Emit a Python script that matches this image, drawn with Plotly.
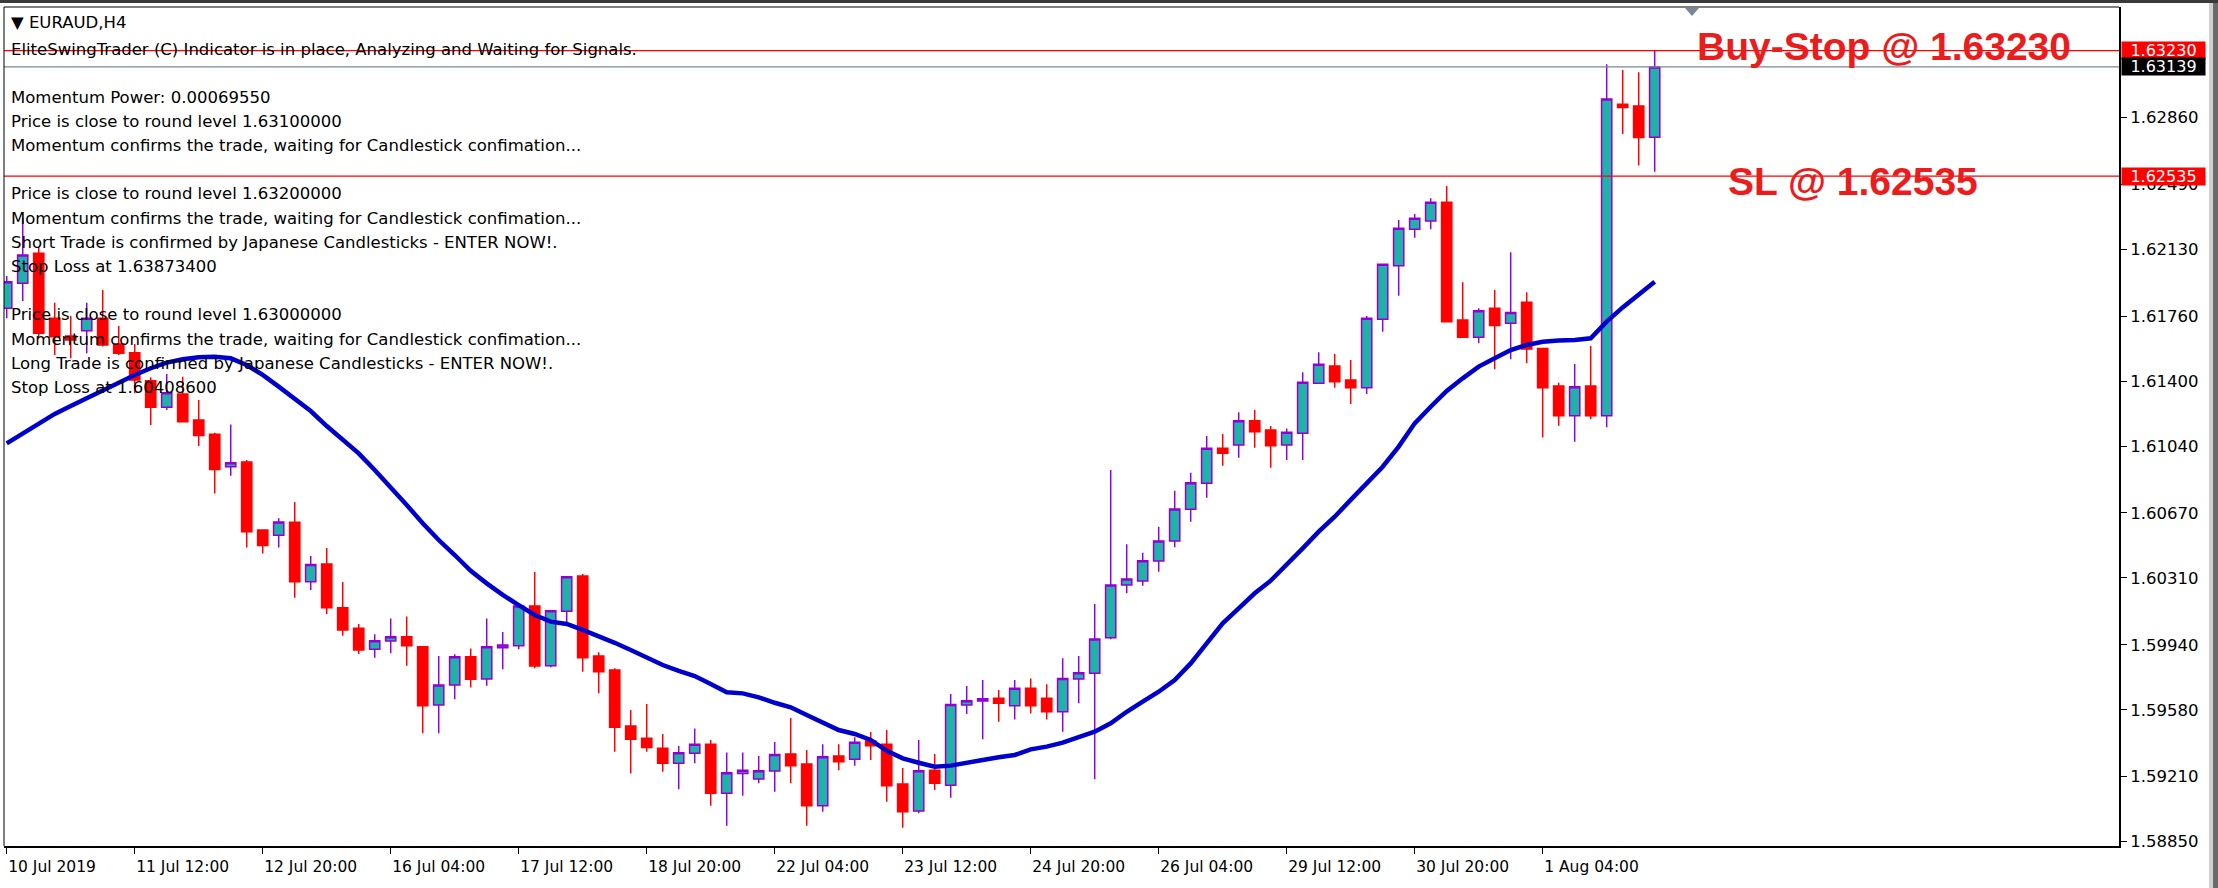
import plotly.graph_objects as go

# ---------------- data ----------------
bar_index = list(range(104))

open_ = [1.61803, 1.61941, 1.62108, 1.61748, 1.61650, 1.61679, 1.61748, 1.61605, 1.61557, 1.61402,
         1.61255, 1.61328, 1.61184, 1.61105, 1.60926, 1.60952, 1.60575, 1.60546, 1.60618, 1.60289,
         1.60387, 1.60145, 1.60031, 1.59915, 1.59961, 1.59985, 1.59929, 1.59606, 1.59717, 1.59874,
         1.59750, 1.59924, 1.59935, 1.60155, 1.59824, 1.60125, 1.60321, 1.59878, 1.59800, 1.59490,
         1.59422, 1.59367, 1.59284, 1.59339, 1.59390, 1.59118, 1.59228, 1.59197, 1.59241, 1.59335,
         1.59280, 1.59049, 1.59324, 1.59306, 1.59407, 1.59390, 1.59169, 1.59020, 1.59246, 1.59163,
         1.59606, 1.59629, 1.59644, 1.59603, 1.59699, 1.59644, 1.59569, 1.59750, 1.59782, 1.59979,
         1.60271, 1.60293, 1.60404, 1.60514, 1.60690, 1.60834, 1.61028, 1.61046, 1.61181, 1.61129,
         1.61046, 1.61111, 1.61388, 1.61484, 1.61406, 1.61363, 1.61742, 1.62039, 1.62240, 1.62286,
         1.62390, 1.61738, 1.61642, 1.61803, 1.61720, 1.61836, 1.61581, 1.61373, 1.61208, 1.61373,
         1.61208, 1.62932, 1.62923, 1.62750]

high_ = [1.61982, 1.62301, 1.62141, 1.61834, 1.61760, 1.61834, 1.61904, 1.61705, 1.61605, 1.61421,
         1.61439, 1.61424, 1.61295, 1.61114, 1.61160, 1.60963, 1.60575, 1.60640, 1.60730, 1.60431,
         1.60476, 1.60288, 1.60055, 1.59998, 1.60086, 1.60096, 1.59929, 1.59878, 1.59887, 1.59920,
         1.60086, 1.60011, 1.60160, 1.60343, 1.60129, 1.60317, 1.60332, 1.59898, 1.59810, 1.59579,
         1.59612, 1.59446, 1.59379, 1.59477, 1.59413, 1.59344, 1.59344, 1.59324, 1.59402, 1.59534,
         1.59357, 1.59390, 1.59390, 1.59428, 1.59457, 1.59468, 1.59258, 1.59413, 1.59335, 1.59667,
         1.59712, 1.59745, 1.59690, 1.59745, 1.59754, 1.59721, 1.59865, 1.59878, 1.60166, 1.60908,
         1.60496, 1.60450, 1.60594, 1.60793, 1.60893, 1.61096, 1.61107, 1.61227, 1.61240, 1.61151,
         1.61138, 1.61449, 1.61559, 1.61550, 1.61517, 1.61760, 1.62047, 1.62292, 1.62325, 1.62412,
         1.62480, 1.61947, 1.61803, 1.61904, 1.62113, 1.61892, 1.61581, 1.61391, 1.61495, 1.61594,
         1.63154, 1.63122, 1.63110, 1.63233]

low_ = [1.61748, 1.61843, 1.61637, 1.61544, 1.61526, 1.61554, 1.61591, 1.61544, 1.61332, 1.61157,
        1.61240, 1.61175, 1.61040, 1.60778, 1.60876, 1.60479, 1.60446, 1.60479, 1.60200, 1.60243,
        1.60110, 1.59990, 1.59889, 1.59868, 1.59893, 1.59824, 1.59450, 1.59450, 1.59638, 1.59704,
        1.59713, 1.59804, 1.59915, 1.59810, 1.59815, 1.60064, 1.59791, 1.59671, 1.59348, 1.59228,
        1.59348, 1.59237, 1.59140, 1.59284, 1.59049, 1.58938, 1.59104, 1.59173, 1.59126, 1.59173,
        1.58938, 1.59016, 1.59246, 1.59270, 1.59302, 1.59071, 1.58927, 1.59007, 1.59136, 1.59093,
        1.59557, 1.59417, 1.59514, 1.59527, 1.59560, 1.59527, 1.59459, 1.59616, 1.59195, 1.59970,
        1.60225, 1.60267, 1.60345, 1.60480, 1.60621, 1.60754, 1.60931, 1.60976, 1.61031, 1.60920,
        1.60963, 1.60963, 1.61388, 1.61363, 1.61273, 1.61328, 1.61673, 1.61873, 1.62194, 1.62240,
        1.61729, 1.61642, 1.61609, 1.61465, 1.61521, 1.61498, 1.61087, 1.61153, 1.61064, 1.61188,
        1.61144, 1.62768, 1.62593, 1.62559]

close_ = [1.61950, 1.62098, 1.61665, 1.61646, 1.61627, 1.61748, 1.61600, 1.61554, 1.61406, 1.61255,
          1.61336, 1.61175, 1.61098, 1.60911, 1.60948, 1.60566, 1.60490, 1.60620, 1.60289, 1.60385,
          1.60145, 1.60022, 1.59911, 1.59962, 1.59985, 1.59935, 1.59603, 1.59717, 1.59874, 1.59749,
          1.59929, 1.59939, 1.60155, 1.59822, 1.60129, 1.60317, 1.59868, 1.59791, 1.59483, 1.59417,
          1.59372, 1.59284, 1.59342, 1.59389, 1.59118, 1.59232, 1.59246, 1.59243, 1.59333, 1.59270,
          1.59049, 1.59320, 1.59292, 1.59400, 1.59381, 1.59160, 1.59016, 1.59243, 1.59173, 1.59610,
          1.59630, 1.59641, 1.59616, 1.59699, 1.59603, 1.59569, 1.59754, 1.59785, 1.59972, 1.60271,
          1.60304, 1.60405, 1.60514, 1.60692, 1.60837, 1.61028, 1.61000, 1.61181, 1.61120, 1.61042,
          1.61116, 1.61393, 1.61493, 1.61396, 1.61363, 1.61748, 1.62047, 1.62246, 1.62301, 1.62390,
          1.61729, 1.61642, 1.61790, 1.61707, 1.61779, 1.61578, 1.61363, 1.61208, 1.61369, 1.61208,
          1.62962, 1.62914, 1.62748, 1.63139]

moving_average = [1.61055, 1.61111, 1.61166, 1.61218, 1.61262, 1.61305, 1.61351, 1.61391, 1.61434, 1.61471,
                  1.61502, 1.61521, 1.61532, 1.61535, 1.61526, 1.61489, 1.61434, 1.61369, 1.61305, 1.61234,
                  1.61151, 1.61074, 1.61000, 1.60908, 1.60815, 1.60714, 1.60613, 1.60520, 1.60437, 1.60350,
                  1.60280, 1.60216, 1.60160, 1.60105, 1.60068, 1.60055, 1.60022, 1.59988, 1.59951, 1.59911,
                  1.59870, 1.59828, 1.59795, 1.59767, 1.59723, 1.59677, 1.59671, 1.59649, 1.59619, 1.59594,
                  1.59551, 1.59508, 1.59468, 1.59446, 1.59413, 1.59353, 1.59311, 1.59287, 1.59265, 1.59271,
                  1.59284, 1.59302, 1.59317, 1.59330, 1.59361, 1.59376, 1.59398, 1.59428, 1.59459, 1.59505,
                  1.59569, 1.59625, 1.59680, 1.59745, 1.59837, 1.59948, 1.60059, 1.60142, 1.60225, 1.60295,
                  1.60382, 1.60474, 1.60566, 1.60649, 1.60742, 1.60834, 1.60926, 1.61037, 1.61166, 1.61258,
                  1.61345, 1.61415, 1.61480, 1.61526, 1.61572, 1.61600, 1.61618, 1.61624, 1.61627, 1.61637,
                  1.61729, 1.61808, 1.61877, 1.61950]

xtick_bars = [0, 8, 16, 24, 32, 40, 48, 56, 64, 72, 80, 88, 96]
xtick_labels = ["10 Jul 2019", "11 Jul 12:00", "12 Jul 20:00", "16 Jul 04:00", "17 Jul 12:00",
                "18 Jul 20:00", "22 Jul 04:00", "23 Jul 12:00", "24 Jul 20:00", "26 Jul 04:00",
                "29 Jul 12:00", "30 Jul 20:00", "1 Aug 04:00"]

ytick_values = [1.58850, 1.59210, 1.59580, 1.59940, 1.60310, 1.60670,
                1.61040, 1.61400, 1.61760, 1.62130, 1.62490, 1.62860]

buy_stop = 1.63230
stop_loss = 1.62535
bid_price = 1.63139

chart_title = "\u25bc EURAUD,H4"
status_line = "EliteSwingTrader (C) Indicator is in place, Analyzing and Waiting for Signals."
info_lines = [
    "Momentum Power: 0.00069550",
    "Price is close to round level 1.63100000",
    "Momentum confirms the trade, waiting for Candlestick confimation...",
    "",
    "Price is close to round level 1.63200000",
    "Momentum confirms the trade, waiting for Candlestick confimation...",
    "Short Trade is confirmed by Japanese Candlesticks - ENTER NOW!.",
    "Stop Loss at 1.63873400",
    "",
    "Price is close to round level 1.63000000",
    "Momentum confirms the trade, waiting for Candlestick confimation...",
    "Long Trade is confirmed by Japanese Candlesticks - ENTER NOW!.",
    "Stop Loss at 1.60408600",
]

# ---------------- layout geometry ----------------
W, H = 2218, 888
ML, MR, MT, MB = 4, 99, 7, 42
PW, PH = W - ML - MR, H - MT - MB


def px(x):
    return (x - ML) / PW


def py(y):
    return 1 - (y - MT) / PH


TXT_FONT = "DejaVu Sans"
TXT_SIZE = 16.5
RED = "#FF0000"
LABEL_RED = "#EC1C1C"

fig = go.Figure()

fig.add_trace(go.Candlestick(
    x=bar_index, open=open_, high=high_, low=low_, close=close_,
    increasing=dict(line=dict(color="#9400D3", width=1.5), fillcolor="#20B2AA"),
    decreasing=dict(line=dict(color="#FF0000", width=1.5), fillcolor="#FF0000"),
    whiskerwidth=0, showlegend=False, hoverinfo="skip",
))

fig.add_trace(go.Scatter(
    x=bar_index, y=moving_average, mode="lines",
    line=dict(color="#0000CD", width=4.5), showlegend=False, hoverinfo="skip",
))

shapes = []
for lvl, col in [(buy_stop, RED), (stop_loss, RED), (bid_price, "#778899")]:
    shapes.append(dict(type="line", xref="paper", yref="y", x0=0, x1=1, y0=lvl, y1=lvl,
                       line=dict(color=col, width=1.2), layer="above"))
shapes.append(dict(type="line", xref="paper", yref="paper", x0=0, x1=1, y0=1, y1=1,
                   line=dict(color="black", width=1)))
shapes.append(dict(type="line", xref="paper", yref="paper", x0=0, x1=0, y0=0, y1=1,
                   line=dict(color="black", width=1)))
shapes.append(dict(type="rect", xref="paper", yref="paper", x0=px(0), x1=px(W), y0=py(0), y1=py(3),
                   fillcolor="#3A3A3A", line=dict(width=0)))
shapes.append(dict(type="rect", xref="paper", yref="paper", x0=px(2209), x1=px(2213), y0=py(H), y1=py(3),
                   fillcolor="#D0D0D0", line=dict(width=0)))
shapes.append(dict(type="rect", xref="paper", yref="paper", x0=px(2213), x1=px(W), y0=py(H), y1=py(3),
                   fillcolor="#6A6A6A", line=dict(width=0)))
shapes.append(dict(type="path", xref="paper", yref="paper",
                   path=f"M {px(1685)},{py(8)} L {px(1699)},{py(8)} L {px(1692)},{py(16)} Z",
                   fillcolor="#778899", line=dict(width=0)))

annotations = []
annotations.append(dict(xref="paper", yref="paper", x=px(9), y=py(23), xanchor="left", yanchor="middle",
                        text=chart_title, showarrow=False, font=dict(family=TXT_FONT, size=TXT_SIZE, color="black")))
annotations.append(dict(xref="paper", yref="paper", x=px(9), y=py(50), xanchor="left", yanchor="middle",
                        text=status_line, showarrow=False, font=dict(family=TXT_FONT, size=TXT_SIZE, color="black")))
for i, line in enumerate(info_lines):
    if not line:
        continue
    annotations.append(dict(xref="paper", yref="paper", x=px(9), y=py(97 + i * 24.2), xanchor="left",
                            yanchor="middle", text=line, showarrow=False,
                            font=dict(family=TXT_FONT, size=TXT_SIZE, color="black")))

annotations.append(dict(xref="paper", yref="y", x=px(1884), y=buy_stop, yshift=4, xanchor="center",
                        yanchor="middle", text=f"Buy-Stop @ {buy_stop:.5f}", showarrow=False,
                        font=dict(family="Liberation Sans", size=39, color=LABEL_RED, weight="bold")))
annotations.append(dict(xref="paper", yref="y", x=px(1853), y=stop_loss, yshift=-5, xanchor="center",
                        yanchor="middle", text=f"SL @ {stop_loss:.5f}", showarrow=False,
                        font=dict(family="Liberation Sans", size=39, color=LABEL_RED, weight="bold")))

for lvl, bg in [(buy_stop, RED), (bid_price, "black"), (stop_loss, RED)]:
    annotations.append(dict(xref="paper", yref="y", x=px(2121), y=lvl, xanchor="left", yanchor="middle",
                            text=f"{lvl:.5f}", showarrow=False, bgcolor=bg, borderpad=0,
                            width=83, height=17, align="center",
                            font=dict(family=TXT_FONT, size=16, color="white")))

fig.update_layout(
    width=W, height=H, autosize=False,
    margin=dict(l=ML, r=MR, t=MT, b=MB, pad=0),
    paper_bgcolor="white", plot_bgcolor="white",
    boxgap=0.2, boxgroupgap=0.2,
    shapes=shapes, annotations=annotations,
    showlegend=False,
    xaxis=dict(
        range=[-0.17, 132.02], rangeslider=dict(visible=False),
        tickmode="array", tickvals=xtick_bars, ticktext=xtick_labels,
        ticks="outside", ticklen=6, tickwidth=1, tickcolor="black",
        ticklabelposition="outside right", ticklabelstandoff=5,
        tickfont=dict(family=TXT_FONT, size=15.5, color="black"),
        showline=True, linecolor="black", linewidth=2, mirror=False,
        showgrid=False, zeroline=False, fixedrange=True,
    ),
    yaxis=dict(
        range=[1.58826, 1.63471], side="right",
        tickmode="array", tickvals=ytick_values, ticktext=[f"{v:.5f}" for v in ytick_values],
        ticks="outside", ticklen=6, tickwidth=1, tickcolor="black",
        tickfont=dict(family=TXT_FONT, size=16.5, color="black"),
        showline=True, linecolor="black", linewidth=2, mirror=False,
        showgrid=False, zeroline=False, fixedrange=True,
    ),
)

fig.write_html(
    "out.html",
    config={"displayModeBar": False},
    post_script="document.body.style.margin='0';document.body.style.padding='0';"
                "document.body.style.overflow='hidden';",
)
